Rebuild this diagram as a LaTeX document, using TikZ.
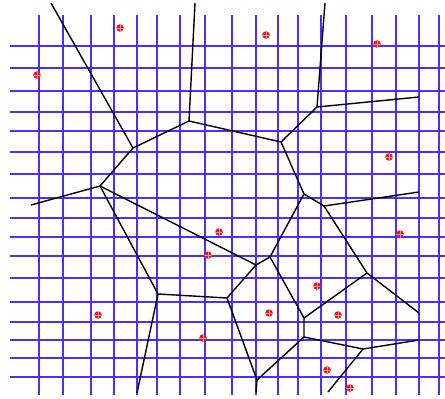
\documentclass[tikz,border=0pt]{standalone}
\usepackage{tikz}
\usetikzlibrary{positioning}
\definecolor{gridblue}{RGB}{75,45,255}
\definecolor{sitered}{RGB}{240,20,20}

\begin{document}
\begin{tikzpicture}[x=1pt,y=-1pt,
            gridline/.style={draw=gridblue,line width=1.05pt},
            cell/.style={draw=black,line width=1.4pt,line join=round},
            site/.style={circle,fill=sitered,inner sep=0pt,minimum size=7.5pt,
                        path picture={\draw[sitered!40!white,line width=0.5pt]
                          (path picture bounding box.north) -- (path picture bounding box.south)
                          (path picture bounding box.west) -- (path picture bounding box.east);}}]
        \useasboundingbox (0,0) rectangle (445,399);
        % jittered grid
        \foreach \gx in {39,63,91,114,137,157,180,205,232,256,278,298,321,346,372,396,419,439}
            \draw[gridline] (\gx,15) -- (\gx,395);
        \foreach \gy in {46,68,91,112,131,152,174,198,218,237,256,278,302,322,340,358,377}
            \draw[gridline] (10,\gy) -- (445,\gy);
        % voronoi vertices
        \coordinate (vA) at (189,121);
        \coordinate (vB) at (133,148);
        \coordinate (vC) at (281,142);
        \coordinate (vD) at (317,107);
        \coordinate (vE) at (100,186);
        \coordinate (vF) at (304,194);
        \coordinate (vG) at (324,206);
        \coordinate (vH) at (270,257);
        \coordinate (vI) at (256,265);
        \coordinate (vJ) at (227,298);
        \coordinate (vK) at (158,294);
        \coordinate (vL) at (257,380);
        \coordinate (vM) at (304,337);
        \coordinate (vN) at (304,318);
        \coordinate (vO) at (367,273);
        \coordinate (vP) at (363,349);
        % open ends
        \coordinate (eA) at (195,3);
        \coordinate (eB) at (51,3);
        \coordinate (eD1) at (325,3);
        \coordinate (eD2) at (419,97);
        \coordinate (eE) at (31,205);
        \coordinate (eG) at (419,192);
        \coordinate (eO) at (419,313);
        \coordinate (eP1) at (419,340);
        \coordinate (eP2) at (328,392);
        \coordinate (eL) at (256,392);
        \coordinate (eK) at (137,393);
        % cell edges
        \draw[cell] (eB) -- (vB) -- (vA) -- (eA);
        \draw[cell] (vA) -- (vC) -- (vD) -- (eD1);
        \draw[cell] (vD) -- (eD2);
        \draw[cell] (eE) -- (vE) -- (vB);
        \draw[cell] (vE) -- (vI) -- (vH) -- (vF) -- (vC);
        \draw[cell] (vF) -- (vG) -- (eG);
        \draw[cell] (vG) -- (vO) -- (eO);
        \draw[cell] (vI) -- (vJ) -- (vK) -- (vE);
        \draw[cell] (vK) -- (eK);
        \draw[cell] (vJ) -- (vL) -- (eL);
        \draw[cell] (vL) -- (vM) -- (vN) -- (vH);
        \draw[cell] (vN) -- (vO);
        \draw[cell] (vM) -- (vP) -- (eP1);
        \draw[cell] (vP) -- (eP2);
        % sites
        \node[site] (s1) at (120,28) {};
        \node[site] (s2) at (37,75) {};
        \node[site] (s3) at (266,35) {};
        \node[site] (s4) at (377,44) {};
        \node[site] (s5) at (389,157) {};
        \node[site] (s6) at (219,232) {};
        \node[site] (s7) at (208,255) {};
        \node[site] (s8) at (400,234) {};
        \node[site] (s9) at (98,315) {};
        \node[site] (s10) at (203,338) {};
        \node[site] (s11) at (269,313) {};
        \node[site] (s12) at (317,286) {};
        \node[site] (s13) at (338,315) {};
        \node[site] (s14) at (327,370) {};
        \node[site] (s15) at (350,388) {};
        \end{tikzpicture}
\end{document}
